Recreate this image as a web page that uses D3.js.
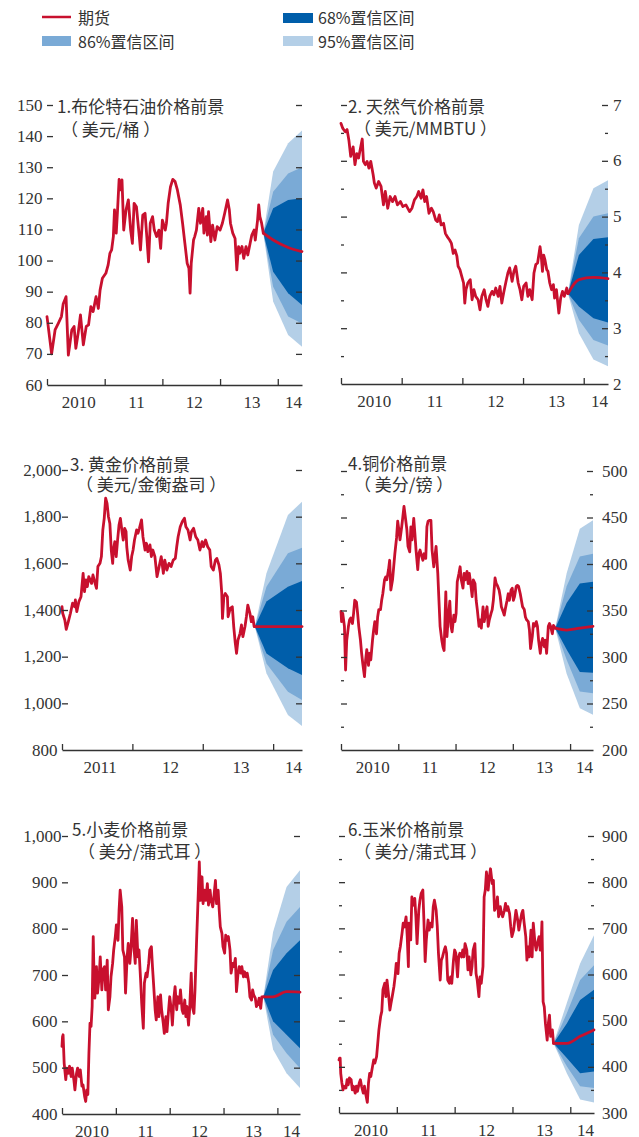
<!DOCTYPE html>
<html>
<head>
<meta charset="utf-8">
<script src="https://cdn.jsdelivr.net/npm/d3@7"></script>
<style>
  body { margin: 0; background: #fff; }
  svg { display: block; }
  .price { fill: none; stroke: #c8102e; stroke-width: 2.8; stroke-linejoin: round; stroke-linecap: round; }
  .axis path, .axis line { stroke: #333; stroke-width: 1.3; }
  .num { font-family: "Liberation Serif", "DejaVu Serif", serif; font-size: 17px; fill: #333; }
  .title { font-family: "Noto Sans CJK SC", sans-serif; font-size: 17px; fill: #333; }
  .legend { font-family: "Noto Sans CJK SC", sans-serif; font-size: 16px; fill: #333; }
</style>
</head>
<body>
<svg id="chart" width="639" height="1137"></svg>
<script>
// ---- historical prices: [year, price] ----
const brentHist = [[2010.00,82],[2010.08,70],[2010.14,77.7],[2010.20,80],[2010.25,82],[2010.28,86],[2010.33,88.4],[2010.37,69.6],[2010.43,77.7],[2010.47,78.8],[2010.50,71.8],[2010.54,76.6],[2010.58,82.5],[2010.63,72.9],[2010.68,78.8],[2010.72,79.3],[2010.76,85.2],[2010.80,83.6],[2010.85,88.4],[2010.89,84.6],[2010.92,90.5],[2010.96,94.3],[2011.02,95.9],[2011.06,98.6],[2011.09,102.3],[2011.12,103.4],[2011.15,107.7],[2011.17,116.3],[2011.20,108.8],[2011.22,115.2],[2011.25,126.1],[2011.28,122.7],[2011.30,125.9],[2011.33,109.8],[2011.37,116.3],[2011.41,119.5],[2011.45,109.8],[2011.48,105.5],[2011.51,118.4],[2011.55,117.3],[2011.60,107.7],[2011.62,103.4],[2011.66,114.6],[2011.70,115.2],[2011.73,107.7],[2011.76,99.6],[2011.79,112],[2011.83,114.1],[2011.86,109.8],[2011.90,107.7],[2011.94,109.8],[2011.97,103.9],[2012.00,113],[2012.05,109.8],[2012.07,112],[2012.10,118.4],[2012.14,123.7],[2012.18,126.1],[2012.22,125.4],[2012.26,122.7],[2012.31,117.9],[2012.35,112],[2012.39,105.5],[2012.43,99.1],[2012.46,97.5],[2012.48,89.5],[2012.50,99.1],[2012.54,106.6],[2012.56,107.7],[2012.59,109.8],[2012.63,116.8],[2012.66,112],[2012.70,116.8],[2012.72,108.8],[2012.76,114.1],[2012.78,108.2],[2012.80,115.7],[2012.84,106.1],[2012.87,111.4],[2012.91,106.6],[2012.95,110.9],[2013.00,109.8],[2013.04,112],[2013.08,115.2],[2013.13,119.5],[2013.16,116.3],[2013.18,112],[2013.22,108.8],[2013.26,107.1],[2013.29,97],[2013.32,104.5],[2013.34,102.3],[2013.38,104.5],[2013.41,100.7],[2013.45,104.5],[2013.48,101.8],[2013.52,105.5],[2013.55,108.2],[2013.59,109.8],[2013.61,106.6],[2013.65,113],[2013.67,117.9],[2013.69,114.1],[2013.72,112],[2013.75,108.8]];

const gasHist = [[2010.00,6.67],[2010.03,6.58],[2010.07,6.52],[2010.10,6.56],[2010.13,6.37],[2010.16,6.08],[2010.20,6.25],[2010.23,5.93],[2010.26,6.13],[2010.29,6.05],[2010.32,6.22],[2010.35,6.39],[2010.37,5.99],[2010.40,5.93],[2010.43,5.99],[2010.46,5.87],[2010.49,5.99],[2010.53,5.75],[2010.55,5.6],[2010.58,5.51],[2010.62,5.63],[2010.66,5.54],[2010.70,5.21],[2010.73,5.45],[2010.77,5.15],[2010.81,5.36],[2010.85,5.27],[2010.89,5.36],[2010.93,5.21],[2010.98,5.27],[2011.02,5.18],[2011.07,5.21],[2011.13,5.09],[2011.17,5.15],[2011.21,5.3],[2011.25,5.36],[2011.28,5.45],[2011.32,5.33],[2011.35,5.48],[2011.38,5.27],[2011.41,5.36],[2011.45,5.06],[2011.49,5.15],[2011.52,5.09],[2011.56,4.94],[2011.59,4.91],[2011.62,5.03],[2011.65,4.85],[2011.69,4.88],[2011.72,4.7],[2011.75,4.64],[2011.79,4.58],[2011.82,4.52],[2011.85,4.34],[2011.88,4.4],[2011.91,4.29],[2011.93,4.11],[2011.96,4.05],[2011.99,3.93],[2012.02,3.81],[2012.04,3.45],[2012.06,3.69],[2012.09,3.81],[2012.13,3.87],[2012.16,3.51],[2012.19,3.69],[2012.22,3.57],[2012.26,3.51],[2012.29,3.33],[2012.32,3.57],[2012.36,3.69],[2012.39,3.51],[2012.42,3.39],[2012.45,3.57],[2012.49,3.66],[2012.52,3.6],[2012.55,3.72],[2012.59,3.57],[2012.62,3.75],[2012.65,3.45],[2012.68,3.63],[2012.72,3.84],[2012.75,3.99],[2012.78,4.08],[2012.82,3.84],[2012.85,4.02],[2012.88,4.11],[2012.92,3.81],[2012.95,3.69],[2012.98,3.51],[2013.01,3.75],[2013.05,3.81],[2013.08,3.57],[2013.11,3.69],[2013.15,3.51],[2013.18,3.99],[2013.21,4.14],[2013.24,4.17],[2013.28,4.46],[2013.30,4.29],[2013.32,4.02],[2013.34,4.31],[2013.36,4.23],[2013.39,4.05],[2013.41,4.02],[2013.44,3.81],[2013.47,3.69],[2013.50,3.78],[2013.52,3.54],[2013.55,3.69],[2013.57,3.48],[2013.59,3.27],[2013.62,3.54],[2013.65,3.66],[2013.68,3.57],[2013.72,3.72],[2013.74,3.62]];

const goldHist = [[2011.00,1414],[2011.01,1386],[2011.04,1357],[2011.06,1317],[2011.09,1350],[2011.12,1386],[2011.15,1429],[2011.18,1414],[2011.19,1443],[2011.21,1393],[2011.24,1436],[2011.27,1457],[2011.30,1557],[2011.32,1479],[2011.34,1529],[2011.36,1500],[2011.38,1543],[2011.42,1514],[2011.44,1550],[2011.47,1514],[2011.49,1493],[2011.51,1586],[2011.54,1600],[2011.56,1629],[2011.58,1743],[2011.60,1793],[2011.62,1879],[2011.64,1857],[2011.66,1800],[2011.68,1771],[2011.70,1657],[2011.72,1600],[2011.73,1657],[2011.75,1693],[2011.77,1629],[2011.79,1700],[2011.81,1764],[2011.83,1793],[2011.85,1743],[2011.87,1700],[2011.89,1750],[2011.91,1736],[2011.92,1671],[2011.94,1614],[2011.97,1571],[2011.99,1629],[2012.01,1657],[2012.03,1700],[2012.06,1743],[2012.08,1729],[2012.10,1750],[2012.13,1786],[2012.15,1714],[2012.18,1657],[2012.20,1686],[2012.22,1650],[2012.25,1679],[2012.27,1629],[2012.29,1657],[2012.32,1629],[2012.35,1543],[2012.38,1586],[2012.41,1629],[2012.44,1557],[2012.46,1614],[2012.49,1571],[2012.52,1600],[2012.55,1586],[2012.58,1614],[2012.61,1621],[2012.63,1671],[2012.65,1714],[2012.68,1757],[2012.71,1779],[2012.74,1793],[2012.76,1757],[2012.79,1743],[2012.82,1700],[2012.84,1736],[2012.87,1750],[2012.90,1714],[2012.93,1700],[2012.96,1657],[2012.99,1693],[2013.01,1671],[2013.04,1700],[2013.07,1671],[2013.10,1657],[2013.12,1586],[2013.15,1571],[2013.18,1614],[2013.20,1621],[2013.23,1593],[2013.25,1557],[2013.27,1471],[2013.28,1364],[2013.30,1457],[2013.32,1471],[2013.35,1457],[2013.36,1371],[2013.39,1407],[2013.42,1414],[2013.44,1329],[2013.46,1264],[2013.48,1214],[2013.50,1271],[2013.53,1300],[2013.55,1336],[2013.57,1286],[2013.60,1329],[2013.62,1371],[2013.64,1421],[2013.67,1386],[2013.69,1350],[2013.71,1371],[2013.73,1329],[2013.74,1329]];

const copperHist = [[2010.00,349],[2010.01,338],[2010.03,347],[2010.06,333],[2010.08,286],[2010.10,318],[2010.13,333],[2010.15,340],[2010.17,342],[2010.20,336],[2010.22,347],[2010.24,361],[2010.27,359],[2010.29,347],[2010.31,333],[2010.34,318],[2010.36,304],[2010.38,293],[2010.41,279],[2010.43,297],[2010.45,308],[2010.48,291],[2010.50,304],[2010.52,297],[2010.55,318],[2010.57,329],[2010.59,338],[2010.62,325],[2010.64,343],[2010.66,351],[2010.69,351],[2010.71,361],[2010.73,368],[2010.76,383],[2010.78,386],[2010.80,383],[2010.83,394],[2010.85,404],[2010.87,372],[2010.90,383],[2010.92,397],[2010.94,411],[2010.97,428],[2010.99,446],[2011.01,437],[2011.03,426],[2011.06,440],[2011.08,451],[2011.10,462],[2011.13,447],[2011.15,437],[2011.17,419],[2011.20,413],[2011.22,440],[2011.24,426],[2011.27,449],[2011.29,433],[2011.31,415],[2011.34,394],[2011.36,411],[2011.38,415],[2011.41,408],[2011.43,404],[2011.45,411],[2011.48,406],[2011.50,440],[2011.52,446],[2011.55,447],[2011.57,447],[2011.59,415],[2011.62,397],[2011.64,408],[2011.66,419],[2011.69,390],[2011.71,361],[2011.73,333],[2011.76,318],[2011.78,311],[2011.80,307],[2011.83,370],[2011.85,322],[2011.87,340],[2011.90,360],[2011.92,333],[2011.94,327],[2011.97,345],[2011.99,338],[2012.01,347],[2012.03,381],[2012.06,390],[2012.08,397],[2012.10,383],[2012.13,374],[2012.15,390],[2012.17,383],[2012.20,392],[2012.22,379],[2012.24,390],[2012.27,376],[2012.29,365],[2012.31,383],[2012.34,379],[2012.36,361],[2012.38,351],[2012.41,333],[2012.43,340],[2012.45,331],[2012.48,354],[2012.50,338],[2012.52,345],[2012.55,354],[2012.57,333],[2012.59,340],[2012.62,347],[2012.64,351],[2012.66,361],[2012.69,385],[2012.71,379],[2012.73,377],[2012.76,372],[2012.78,365],[2012.80,354],[2012.83,349],[2012.85,345],[2012.87,352],[2012.90,361],[2012.92,368],[2012.94,361],[2012.97,372],[2012.99,374],[2013.01,361],[2013.03,365],[2013.06,376],[2013.08,377],[2013.10,376],[2013.13,368],[2013.15,361],[2013.17,354],[2013.20,351],[2013.22,343],[2013.24,340],[2013.27,338],[2013.29,329],[2013.31,309],[2013.34,322],[2013.36,336],[2013.38,333],[2013.41,338],[2013.43,333],[2013.45,318],[2013.48,304],[2013.50,315],[2013.52,320],[2013.55,311],[2013.57,318],[2013.59,304],[2013.62,333],[2013.64,336],[2013.66,333],[2013.69,325],[2013.71,334],[2013.74,331]];

const wheatHist = [[2010.00,546],[2010.01,567],[2010.02,571],[2010.04,510],[2010.07,474],[2010.09,499],[2010.12,488],[2010.14,503],[2010.17,481],[2010.19,499],[2010.22,474],[2010.24,452],[2010.27,488],[2010.29,499],[2010.32,481],[2010.34,495],[2010.37,460],[2010.39,463],[2010.42,438],[2010.44,427],[2010.46,452],[2010.48,442],[2010.50,531],[2010.52,596],[2010.54,589],[2010.56,632],[2010.58,783],[2010.60,668],[2010.61,650],[2010.64,718],[2010.66,661],[2010.69,696],[2010.71,739],[2010.74,668],[2010.76,711],[2010.79,718],[2010.81,668],[2010.84,732],[2010.86,625],[2010.89,653],[2010.91,696],[2010.94,725],[2010.96,754],[2010.99,783],[2011.01,808],[2011.04,775],[2011.06,840],[2011.08,883],[2011.11,847],[2011.13,754],[2011.16,739],[2011.18,661],[2011.21,739],[2011.23,768],[2011.26,725],[2011.28,754],[2011.31,822],[2011.33,768],[2011.36,725],[2011.38,818],[2011.41,739],[2011.43,754],[2011.46,689],[2011.48,639],[2011.51,585],[2011.53,682],[2011.56,704],[2011.58,696],[2011.61,725],[2011.63,754],[2011.66,761],[2011.68,718],[2011.70,682],[2011.73,625],[2011.75,603],[2011.78,653],[2011.80,610],[2011.83,657],[2011.85,625],[2011.88,596],[2011.90,574],[2011.93,610],[2011.95,578],[2011.98,625],[2012.00,653],[2012.03,625],[2012.05,592],[2012.08,653],[2012.10,675],[2012.13,625],[2012.15,653],[2012.18,639],[2012.20,668],[2012.23,625],[2012.25,617],[2012.28,646],[2012.30,610],[2012.32,632],[2012.35,592],[2012.37,625],[2012.40,704],[2012.42,632],[2012.45,617],[2012.47,668],[2012.50,775],[2012.52,840],[2012.55,944],[2012.57,861],[2012.60,912],[2012.62,854],[2012.65,883],[2012.67,861],[2012.70,897],[2012.72,851],[2012.75,883],[2012.77,861],[2012.80,847],[2012.82,868],[2012.85,904],[2012.87,854],[2012.90,883],[2012.92,840],[2012.94,804],[2012.97,790],[2012.99,761],[2013.02,747],[2013.04,786],[2013.07,775],[2013.09,783],[2013.12,754],[2013.14,704],[2013.17,725],[2013.19,718],[2013.22,736],[2013.24,664],[2013.27,704],[2013.29,718],[2013.32,704],[2013.34,718],[2013.37,696],[2013.39,707],[2013.42,696],[2013.44,704],[2013.47,682],[2013.49,653],[2013.52,646],[2013.54,668],[2013.56,657],[2013.59,650],[2013.61,632],[2013.64,639],[2013.66,650],[2013.69,628],[2013.71,653],[2013.74,653]];

const cornHist = [[2010.00,415],[2010.01,419],[2010.02,419],[2010.03,386],[2010.05,365],[2010.07,350],[2010.09,358],[2010.12,354],[2010.14,372],[2010.16,361],[2010.18,376],[2010.21,372],[2010.23,350],[2010.25,358],[2010.28,343],[2010.30,358],[2010.32,347],[2010.35,365],[2010.37,372],[2010.39,358],[2010.42,343],[2010.44,358],[2010.46,343],[2010.49,323],[2010.51,365],[2010.53,386],[2010.55,379],[2010.58,401],[2010.60,415],[2010.62,408],[2010.65,422],[2010.67,451],[2010.69,480],[2010.72,509],[2010.74,520],[2010.76,567],[2010.79,581],[2010.81,552],[2010.83,588],[2010.86,552],[2010.88,523],[2010.90,538],[2010.92,552],[2010.95,574],[2010.97,595],[2010.99,624],[2011.02,602],[2011.04,646],[2011.06,660],[2011.09,689],[2011.11,711],[2011.13,703],[2011.16,725],[2011.18,682],[2011.20,617],[2011.21,711],[2011.24,675],[2011.26,768],[2011.28,750],[2011.31,765],[2011.33,725],[2011.35,667],[2011.38,739],[2011.40,761],[2011.42,775],[2011.45,783],[2011.47,711],[2011.49,628],[2011.51,675],[2011.54,718],[2011.56,696],[2011.58,711],[2011.61,703],[2011.63,747],[2011.65,761],[2011.68,739],[2011.70,703],[2011.72,646],[2011.75,588],[2011.77,631],[2011.79,638],[2011.82,653],[2011.84,660],[2011.86,646],[2011.88,588],[2011.91,581],[2011.93,595],[2011.95,581],[2011.98,631],[2012.00,653],[2012.02,646],[2012.05,595],[2012.07,638],[2012.09,646],[2012.12,638],[2012.14,653],[2012.16,638],[2012.18,667],[2012.21,653],[2012.23,610],[2012.25,638],[2012.28,599],[2012.30,617],[2012.32,653],[2012.35,667],[2012.37,602],[2012.39,588],[2012.42,552],[2012.44,595],[2012.46,581],[2012.49,617],[2012.51,768],[2012.53,783],[2012.55,822],[2012.58,783],[2012.60,811],[2012.62,829],[2012.65,797],[2012.67,804],[2012.69,739],[2012.72,747],[2012.74,768],[2012.76,725],[2012.79,747],[2012.81,732],[2012.83,725],[2012.86,739],[2012.88,754],[2012.90,739],[2012.92,747],[2012.95,732],[2012.97,703],[2012.99,682],[2013.02,696],[2013.04,718],[2013.06,739],[2013.09,718],[2013.11,696],[2013.13,711],[2013.16,732],[2013.18,739],[2013.20,714],[2013.23,682],[2013.25,631],[2013.27,660],[2013.29,638],[2013.32,696],[2013.34,638],[2013.36,711],[2013.39,667],[2013.41,653],[2013.43,667],[2013.46,682],[2013.48,653],[2013.50,682],[2013.51,714],[2013.53,541],[2013.55,530],[2013.57,494],[2013.60,458],[2013.62,494],[2013.64,512],[2013.66,466],[2013.69,480],[2013.71,451]];

// ---- futures curves: [year, price] ----
const brentFut  = [[2013.75,108.8],[2013.92,106.6],[2014.18,104.2],[2014.42,102.9]];
const gasFut    = [[2013.74,3.62],[2013.92,3.87],[2014.16,3.91],[2014.40,3.89]];
const goldFut   = [[2013.74,1329],[2013.905,1329],[2014.21,1329],[2014.41,1329]];
const copperFut = [[2013.74,331],[2013.94,329],[2014.17,331],[2014.40,333]];
const wheatFut  = [[2013.74,653],[2013.92,653],[2014.17,664],[2014.42,663]];
const cornFut   = [[2013.71,451],[2013.94,451],[2014.17,466],[2014.41,480]];

// ---- confidence fans: [year, lo95, lo86, lo68, hi68, hi86, hi95] ----
const brentFan = [[2013.75,108.8,108.8,108.8,108.8,108.8,108.8],[2013.92,86.8,91.6,96.4,116.8,122.1,128.6],[2014.18,76.1,82,89.5,119.5,128,137.7],[2014.42,72.3,79.8,85.7,120,130,141.8]];
const gasFan = [[2013.74,3.62,3.62,3.62,3.62,3.62,3.62],[2013.92,2.91,3.15,3.39,4.31,4.61,4.85],[2014.16,2.44,2.79,3.18,4.6,5.0,5.51],[2014.40,2.32,2.69,3.10,4.63,5.06,5.65]];
const goldFan = [[2013.74,1329,1329,1329,1329,1329,1329],[2013.905,1129,1171,1214,1436,1500,1557],[2014.21,950,1050,1150,1500,1643,1807],[2014.41,903,1014,1121,1524,1667,1864]];
const copperFan = [[2013.74,331,331,331,331,331,331],[2013.94,282,297,308,358,376,390],[2014.17,245,263,284,379,408,438],[2014.40,238,261,283,381,411,447]];
const wheatFan = [[2013.74,653,653,653,653,653,653],[2013.92,539,571,600,711,754,793],[2014.17,488,531,571,747,815,890],[2014.42,456,499,542,775,847,926]];
const cornFan = [[2013.71,451,451,451,451,451,451],[2013.94,386,401,419,494,516,538],[2014.17,329,358,386,545,588,624],[2014.41,323,354,390,567,620,685]];

// ---- axis labels ----
const yearLabels = ["2010", "11", "12", "13", "14"];
const goldYearLabels = ["2011", "12", "13", "14"];
const brentTicks = [60, 70, 80, 90, 100, 110, 120, 130, 140, 150];
const gasTicks = [2, 3, 4, 5, 6, 7];
const gasMinor = [2.5, 3.5, 4.5, 5.5, 6.5];
const goldTicks = [800, 1000, 1200, 1400, 1600, 1800, 2000];
const copperTicks = [200, 250, 300, 350, 400, 450, 500];
const copperMinor = [225, 275, 325, 375, 425, 475];
const wheatTicks = [400, 500, 600, 700, 800, 900, 1000];
const cornTicks = [300, 400, 500, 600, 700, 800, 900];
const cornMinor = [350, 450, 550, 650, 750, 850];

const RED = "#c8102e", C68 = "#005eaa", C86 = "#7aaad6", C95 = "#b4cfe7";

const svg = d3.select("#chart");

// ---- legend ----
const lg = svg.append("g");
lg.append("line").attr("x1", 42).attr("x2", 71).attr("y1", 17).attr("y2", 17)
  .attr("stroke", RED).attr("stroke-width", 2.5);
[[42, 36, 29, C86], [283, 13, 30, C68], [283, 36, 30, C95]].forEach(([x, y, w, c]) =>
  lg.append("rect").attr("x", x).attr("y", y).attr("width", w).attr("height", 10).attr("fill", c));
[[78, 17, "期货"], [78, 41, "86%置信区间"], [318, 17, "68%置信区间"], [318, 41, "95%置信区间"]]
  .forEach(([x, y, t]) => lg.append("text").attr("class", "legend").attr("x", x).attr("y", y)
    .attr("dominant-baseline", "central").text(t));

// ---- panels ----
const panels = [
  { hist: brentHist, fut: brentFut, fan: brentFan, xDomain: [2010, 2014.42], years: yearLabels,
    yDomain: [60, 150], ticks: brentTicks, minor: [], side: "left",
    left: 47, right: 302, top: 105, bottom: 385,
    title: ["1.布伦特石油价格前景", "（ 美元/桶 ）"], tx: 57, ty: 105, tx2: 61, ty2: 128 },
  { hist: gasHist, fut: gasFut, fan: gasFan, xDomain: [2010, 2014.40], years: yearLabels,
    yDomain: [2, 7], ticks: gasTicks, minor: gasMinor, side: "right", gap: 5,
    left: 341, right: 608, top: 105, bottom: 384,
    title: ["2. 天然气价格前景", "（ 美元/MMBTU ）"], tx: 348, ty: 105, tx2: 354, ty2: 127 },
  { hist: goldHist, fut: goldFut, fan: goldFan, xDomain: [2011, 2014.41], years: goldYearLabels,
    yDomain: [800, 2000], ticks: goldTicks, minor: [], side: "left",
    left: 62, right: 302, top: 470, bottom: 750,
    title: ["3. 黄金价格前景", "（ 美元/金衡盎司 ）"], tx: 70, ty: 463, tx2: 76, ty2: 483 },
  { hist: copperHist, fut: copperFut, fan: copperFan, xDomain: [2010, 2014.40], years: yearLabels,
    yDomain: [200, 500], ticks: copperTicks, minor: copperMinor, side: "right", gap: 9,
    left: 341, right: 593, top: 471, bottom: 750,
    title: ["4.铜价格前景", "（ 美分/镑 ）"], tx: 348, ty: 462, tx2: 354, ty2: 483 },
  { hist: wheatHist, fut: wheatFut, fan: wheatFan, xDomain: [2010, 2014.42], years: yearLabels,
    yDomain: [400, 1000], ticks: wheatTicks, minor: [], side: "left",
    left: 62, right: 300, top: 836, bottom: 1114,
    title: ["5.小麦价格前景", "（ 美分/蒲式耳 ）"], tx: 72, ty: 828, tx2: 78, ty2: 850 },
  { hist: cornHist, fut: cornFut, fan: cornFan, xDomain: [2010, 2014.41], years: yearLabels,
    yDomain: [300, 900], ticks: cornTicks, minor: cornMinor, side: "right", gap: 8,
    left: 339, right: 594, top: 836, bottom: 1113,
    title: ["6.玉米价格前景", "（ 美分/蒲式耳 ）"], tx: 348, ty: 828, tx2: 354, ty2: 850 }
];

const fmt = d3.format(",");

function drawPanel(p) {
  const x = d3.scaleLinear().domain(p.xDomain).range([p.left, p.right]);
  const y = d3.scaleLinear().domain(p.yDomain).range([p.bottom, p.top]);
  const g = svg.append("g");

  // fan bands, widest first
  [[1, 6, C95], [2, 5, C86], [3, 4, C68]].forEach(([lo, hi, col]) =>
    g.append("path").datum(p.fan).attr("fill", col)
      .attr("d", d3.area().x(d => x(d[0])).y0(d => y(d[lo])).y1(d => y(d[hi]))));

  // price history and futures curve
  g.append("path").datum(p.hist).attr("class", "price")
    .attr("d", d3.line().x(d => x(d[0])).y(d => y(d[1])));
  g.append("path").datum(p.fut).attr("class", "price")
    .attr("d", d3.line().curve(d3.curveMonotoneX).x(d => x(d[0])).y(d => y(d[1])));

  // time axis with year boundary ticks
  const yearStarts = d3.range(Math.ceil(p.xDomain[0]), Math.floor(p.xDomain[1]) + 1);
  g.append("g").attr("class", "axis").attr("transform", `translate(0,${p.bottom})`)
    .call(d3.axisBottom(x).tickValues(yearStarts).tickSize(-6).tickSizeOuter(0).tickFormat(""));
  p.years.forEach((lab, i) => {
    const last = i === p.years.length - 1;
    g.append("text").attr("class", "num")
      .attr("x", last ? p.right : x(yearStarts[i] + 0.5) + 3)
      .attr("y", p.bottom + 17)
      .attr("text-anchor", last ? "end" : "middle")
      .attr("dominant-baseline", "central").text(lab);
  });

  // value ticks on both sides (major and minor), pointing inward
  const majors = p.ticks.filter(v => v > p.yDomain[0]);
  const addTicks = (axisFn, pos, vals, len) => {
    if (!vals.length) return;
    const a = g.append("g").attr("class", "axis").attr("transform", `translate(${pos},0)`)
      .call(axisFn(y).tickValues(vals).tickSize(-len).tickSizeOuter(0).tickFormat(""));
    a.select(".domain").remove();
  };
  addTicks(d3.axisLeft, p.left, majors, 6);
  addTicks(d3.axisRight, p.right, majors, 6);
  addTicks(d3.axisLeft, p.left, p.minor, 3);
  addTicks(d3.axisRight, p.right, p.minor, 3);

  // value labels
  p.ticks.forEach(v => {
    const t = g.append("text").attr("class", "num").attr("y", y(v))
      .attr("dominant-baseline", "central").text(fmt(v));
    if (p.side === "left") t.attr("x", p.left - (v >= 1000 ? 0.5 : 4.5)).attr("text-anchor", "end");
    else t.attr("x", p.right + p.gap).attr("text-anchor", "start");
  });

  // panel title
  g.append("text").attr("class", "title").attr("x", p.tx).attr("y", p.ty)
    .attr("dominant-baseline", "central").text(p.title[0]);
  g.append("text").attr("class", "title").attr("x", p.tx2).attr("y", p.ty2)
    .attr("dominant-baseline", "central").text(p.title[1]);
}

panels.forEach(drawPanel);
</script>
</body>
</html>
